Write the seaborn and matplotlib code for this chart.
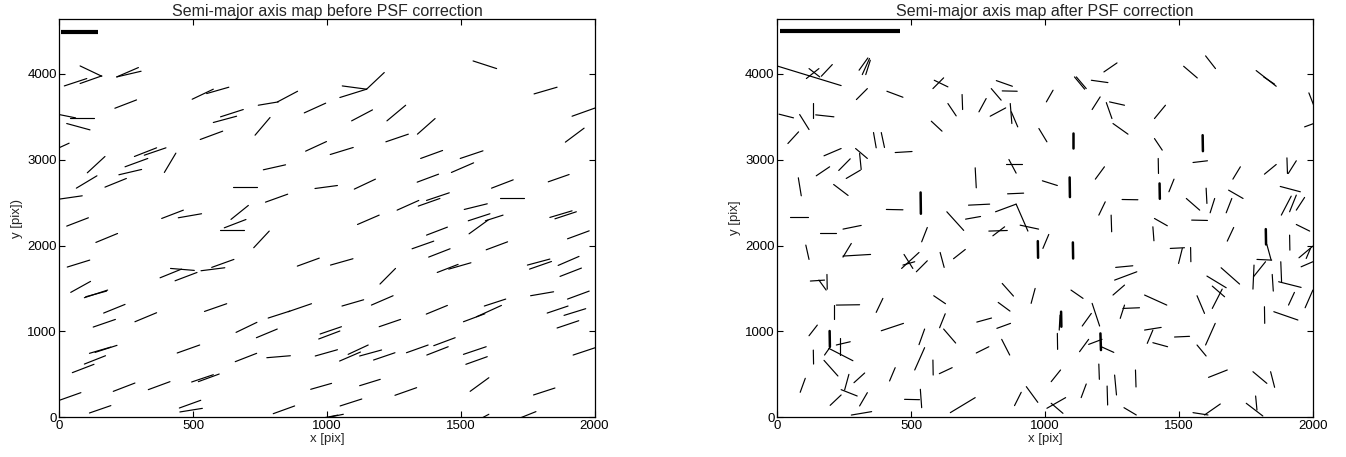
import pandas as pd
import matplotlib
matplotlib.use("Agg")
import matplotlib.pyplot as plt
import seaborn as sns

# whisker end points (x0, y0, x1, y1) in detector pixels
before_whiskers = [
    (77, 4093, 158, 3973), (18, 3860, 102, 3946), (77, 3888, 158, 3977), (214, 3965, 295, 4074),
    (214, 3965, 305, 4031), (207, 3600, 288, 3697), (496, 3705, 575, 3822), (550, 3771, 633, 3845),
    (743, 3635, 818, 3674), (815, 3674, 890, 3798), (915, 3546, 995, 3659), (-2, 3527, 60, 3488),
    (39, 3484, 130, 3484), (27, 3422, 114, 3348), (575, 3434, 662, 3507), (602, 3500, 687, 3585),
    (731, 3286, 787, 3492), (526, 3236, 610, 3333), (-2, 3139, 36, 3193), (280, 3038, 363, 3139),
    (317, 3053, 398, 3139), (245, 2918, 330, 3015), (392, 2852, 435, 3077), (104, 2848, 170, 3038),
    (920, 3100, 998, 3212), (222, 2825, 307, 2887), (63, 2669, 140, 2813), (170, 2681, 250, 2782),
    (650, 2677, 737, 2677), (762, 2883, 845, 2941), (955, 2665, 1039, 2700), (-2, 2541, 85, 2580),
    (770, 2506, 853, 2599), (382, 2316, 463, 2413), (444, 2324, 531, 2371), (641, 2305, 706, 2468),
    (27, 2227, 108, 2324), (616, 2207, 697, 2304), (599, 2176, 691, 2176),
    (1546, 4151, 1634, 4062), (1057, 3860, 1148, 3822), (1148, 3822, 1214, 4016), (1048, 3725, 1148, 3822),
    (1774, 3767, 1860, 3845), (1092, 3453, 1170, 3581), (1224, 3453, 1294, 3635), (1916, 3507, 2005, 3606),
    (1338, 3298, 1404, 3480), (1220, 3209, 1304, 3298), (1891, 3205, 1961, 3368), (1012, 3061, 1098, 3143),
    (1350, 3015, 1432, 3108), (1498, 3015, 1583, 3104), (1465, 2852, 1548, 2964), (1102, 2658, 1181, 2774),
    (1337, 2739, 1417, 2832), (1615, 2669, 1696, 2766), (1827, 2743, 1905, 2828), (1648, 2553, 1736, 2553),
    (1262, 2413, 1343, 2526), (1341, 2460, 1422, 2549), (1372, 2526, 1457, 2615), (1513, 2421, 1599, 2487),
    (1114, 2246, 1195, 2355), (1528, 2289, 1609, 2371), (1592, 2289, 1658, 2355), (1531, 2137, 1602, 2297),
    (1833, 2328, 1916, 2405), (1852, 2312, 1932, 2394),
    (1372, 2122, 1450, 2215), (1318, 1963, 1399, 2052), (1380, 1866, 1460, 1963), (1595, 1951, 1675, 2044),
    (1899, 2079, 1980, 2172), (1013, 1773, 1097, 1847), (1412, 1687, 1490, 1781), (1455, 1726, 1538, 1800),
    (1198, 1552, 1256, 1734), (1749, 1773, 1833, 1843), (1757, 1726, 1839, 1815), (1864, 1769, 1942, 1874),
    (1871, 1641, 1951, 1738), (1056, 1296, 1137, 1369), (1166, 1307, 1247, 1416), (1371, 1202, 1450, 1303),
    (1588, 1296, 1668, 1377), (1510, 1113, 1590, 1206), (1559, 1171, 1652, 1303), (1761, 1416, 1847, 1462),
    (1899, 1377, 1980, 1470), (1823, 1214, 1901, 1296), (1886, 1187, 1967, 1265), (1195, 1055, 1275, 1140),
    (1860, 1040, 1941, 1125), (974, 970, 1054, 1055), (969, 912, 1048, 1005), (956, 714, 1039, 787),
    (1079, 733, 1154, 842), (1047, 655, 1125, 760), (1122, 714, 1204, 784), (1174, 667, 1254, 752),
    (1297, 752, 1378, 842), (1373, 725, 1453, 822), (1399, 834, 1479, 927), (1510, 733, 1595, 822),
    (1519, 617, 1599, 706), (1920, 725, 2005, 813), (939, 326, 1017, 395), (1122, 368, 1199, 442),
    (1254, 256, 1335, 345), (1535, 302, 1605, 461), (1772, 260, 1852, 341), (1049, 132, 1130, 213),
    (1011, 3, 1061, 35), (990, -5, 1040, 25), (1560, -40, 1605, 35), (1720, -10, 1781, 66),
    (136, 2037, 217, 2141), (726, 1975, 784, 2169), (29, 1750, 113, 1831), (889, 1761, 971, 1854),
    (569, 1746, 652, 1839), (415, 1734, 504, 1711), (529, 1707, 618, 1742), (376, 1625, 456, 1726),
    (432, 1590, 514, 1687), (42, 1455, 116, 1583), (93, 1393, 180, 1482), (98, 1404, 176, 1470),
    (165, 1214, 245, 1315), (542, 1233, 625, 1323), (126, 1051, 209, 1140), (282, 1113, 363, 1218),
    (780, 1156, 861, 1237), (855, 1230, 942, 1323), (660, 989, 738, 1106), (736, 927, 814, 1028),
    (112, 745, 192, 818), (133, 756, 215, 838), (93, 620, 172, 717), (48, 520, 129, 617),
    (440, 749, 524, 842), (657, 648, 737, 745), (775, 694, 863, 717), (494, 411, 575, 496),
    (519, 415, 597, 504), (201, 302, 282, 399), (332, 322, 413, 415), (-4, 194, 80, 287),
    (112, 50, 192, 136), (448, 108, 528, 198), (450, 62, 534, 104), (799, 42, 879, 132),
]

after_whiskers = [
    (-2, 4093, 238, 3864), (108, 3946, 155, 4062), (118, 4062, 158, 3965), (164, 3973, 205, 4109),
    (305, 4043, 338, 4186), (317, 3992, 344, 4179), (330, 3992, 347, 4159), (295, 3701, 336, 3829),
    (409, 3798, 469, 3728), (581, 3829, 621, 3954), (586, 3926, 637, 3849), (637, 3655, 668, 3511),
    (690, 3760, 692, 3585), (753, 3558, 780, 3713), (799, 3829, 836, 3694), (818, 3922, 878, 3856),
    (840, 3802, 896, 3798), (795, 3507, 853, 3604), (870, 3655, 876, 3422), (874, 3558, 898, 3383),
    (1005, 3674, 1030, 3810), (6, 3531, 60, 3488), (83, 3527, 118, 3352), (134, 3666, 134, 3492),
    (143, 3523, 211, 3500), (39, 3189, 79, 3325), (575, 3449, 615, 3333), (977, 3364, 1007, 3209),
    (359, 3317, 369, 3139), (388, 3317, 400, 3143), (440, 3084, 503, 3096), (174, 3046, 238, 3131),
    (292, 3131, 336, 3015), (307, 3073, 313, 2887), (229, 2875, 272, 3011), (145, 2813, 195, 2918),
    (257, 2782, 310, 2879), (855, 2945, 915, 2945), (865, 3003, 892, 2844), (739, 2906, 743, 2673),
    (78, 2790, 89, 2580), (210, 2712, 264, 2584), (990, 2755, 1046, 2700), (407, 2421, 469, 2417),
    (48, 2336, 114, 2336), (633, 2394, 696, 2177), (703, 2308, 759, 2339), (714, 2471, 793, 2483),
    (860, 2603, 920, 2611), (815, 2394, 892, 2483), (892, 2483, 936, 2169),
    (1220, 4023, 1269, 4128), (1110, 3965, 1148, 3822), (1117, 3965, 1154, 3829), (1173, 3926, 1235, 3899),
    (1176, 3585, 1206, 3732), (1229, 3666, 1250, 3480), (1241, 3674, 1297, 3635), (1254, 3422, 1310, 3298),
    (1409, 3480, 1450, 3635), (1518, 4089, 1569, 3953), (1600, 4210, 1637, 4062), (1789, 4039, 1864, 3856),
    (1817, 3965, 1858, 3880), (1986, 3779, 2004, 3635), (1970, 3383, 2004, 3422), (1409, 3247, 1438, 3112),
    (1553, 2968, 1607, 2988), (1423, 3015, 1424, 2840), (1188, 2774, 1222, 2918), (1463, 2627, 1482, 2774),
    (1288, 2537, 1347, 2534), (1201, 2355, 1225, 2510), (1247, 2355, 1249, 2161), (1528, 2549, 1578, 2413),
    (1602, 2669, 1605, 2491), (1617, 2382, 1634, 2549), (1677, 2382, 1698, 2549), (1686, 2646, 1740, 2549),
    (1702, 2774, 1730, 2918), (1820, 2832, 1864, 2945), (1904, 3022, 1906, 2840), (1909, 2840, 1939, 2988),
    (1879, 2689, 1954, 2627), (1883, 2355, 1920, 2576), (1914, 2394, 1939, 2588), (1939, 2413, 1970, 2561),
    (1548, 2297, 1607, 2293), (1409, 2316, 1457, 2231), (1939, 2246, 1989, 2169),
    (907, 2238, 976, 2192), (790, 2169, 859, 2176), (805, 2114, 849, 2219), (158, 2145, 220, 2145),
    (245, 2192, 313, 2235), (539, 2044, 560, 2211), (106, 2006, 118, 1839), (245, 1866, 276, 2025),
    (245, 1878, 348, 1897), (473, 1897, 506, 1734), (464, 1734, 529, 1920), (469, 1773, 513, 1812),
    (519, 1695, 560, 1823), (608, 1920, 623, 1746), (658, 1847, 702, 1955), (992, 1967, 1014, 2130),
    (123, 1587, 176, 1598), (185, 1664, 186, 1493), (155, 1598, 182, 1482), (211, 1307, 211, 1140),
    (220, 1307, 307, 1311), (369, 1222, 394, 1385), (584, 1416, 628, 1323), (606, 1043, 627, 1206),
    (621, 1028, 666, 865), (840, 1559, 882, 1412), (948, 1327, 963, 1501), (825, 1338, 869, 1237),
    (745, 1109, 800, 1156), (820, 1036, 871, 1094), (388, 1008, 471, 1094), (118, 950, 149, 1074),
    (176, 725, 197, 818), (192, 803, 282, 659), (220, 842, 272, 880), (232, 725, 232, 927),
    (134, 783, 135, 620), (529, 846, 550, 1028), (513, 551, 550, 811), (743, 749, 790, 822),
    (838, 908, 868, 725), (581, 667, 582, 492), (605, 508, 653, 578), (174, 663, 226, 481),
    (419, 423, 440, 578), (85, 291, 104, 454), (286, 403, 326, 516), (251, 318, 267, 500),
    (238, 322, 298, 248), (197, 139, 238, 260), (307, 132, 336, 287), (276, 26, 352, 66),
    (475, 209, 531, 205), (534, 326, 539, 112), (646, 54, 739, 229), (886, 136, 911, 291),
    (930, 357, 973, 174),
    (1403, 2219, 1407, 2056), (1681, 2052, 1705, 2211), (1914, 2122, 1915, 1947), (1468, 1967, 1521, 1975),
    (1499, 1792, 1513, 1967), (1544, 1978, 1545, 1812), (1264, 1746, 1328, 1765), (1260, 1598, 1343, 1695),
    (1254, 1424, 1297, 1540), (1097, 1482, 1142, 1385), (1176, 1327, 1204, 1063), (1139, 1063, 1173, 1210),
    (1281, 1152, 1297, 1307), (1291, 1268, 1353, 1276), (1372, 1424, 1455, 1307), (1568, 1416, 1596, 1210),
    (1605, 1645, 1677, 1509), (1625, 1528, 1671, 1404), (1625, 1268, 1662, 1493), (1658, 1742, 1727, 1552),
    (1777, 1493, 1781, 1773), (1779, 1637, 1824, 1812), (1792, 1839, 1847, 1831), (1829, 2013, 1845, 1831),
    (1849, 1664, 1853, 1470), (1881, 1812, 1884, 1579), (1873, 1579, 1957, 1513), (1910, 1307, 1932, 1455),
    (1949, 1858, 2001, 1994), (1957, 1753, 2001, 1812), (1976, 1850, 1992, 1967), (1972, 1276, 2001, 1482),
    (1820, 1288, 1821, 1094), (1855, 1230, 1945, 1133), (1056, 1191, 1053, 1016), (1046, 977, 1047, 791),
    (1129, 764, 1163, 908), (1163, 849, 1213, 908), (1210, 822, 1257, 756), (1372, 1016, 1434, 1047),
    (1382, 861, 1403, 1016), (1403, 869, 1458, 822), (1484, 935, 1540, 943), (1600, 842, 1636, 1094),
    (1568, 842, 1602, 714), (1023, 415, 1058, 551), (1201, 620, 1203, 442), (1135, 229, 1154, 388),
    (1232, 364, 1234, 143), (1260, 492, 1267, 260), (1338, 551, 1340, 353), (1611, 465, 1681, 551),
    (1777, 531, 1829, 395), (1843, 531, 1858, 349), (1007, 105, 1077, 229), (1023, 163, 1067, 46),
    (1295, 112, 1341, 27), (1553, 54, 1609, 27), (1596, 27, 1655, 155), (1752, 163, 1814, 15),
    (1787, 248, 1792, 85),
]

# overlapping whiskers that show up as heavier strokes
after_bold = [
    (535, 2619, 536, 2371), (1104, 3317, 1104, 3139), (1589, 3286, 1590, 3100), (1092, 2794, 1093, 2565),
    (1428, 2724, 1429, 2545), (973, 2052, 974, 1858), (195, 1005, 196, 822), (1104, 2037, 1105, 1850),
    (1825, 2192, 1826, 2013), (1060, 1230, 1061, 1055), (1207, 977, 1209, 783),
]

# reference bars in the upper left corner
scale_before = (5, 145, 4490)
scale_after = (8, 459, 4500)

x_ticks = [0, 500, 1000, 1500, 2000]
y_ticks = [0, 1000, 2000, 3000, 4000]


def to_long(segs):
    rows = []
    for i, (x0, y0, x1, y1) in enumerate(segs):
        rows.append({"seg": i, "x": x0, "y": y0})
        rows.append({"seg": i, "x": x1, "y": y1})
    return pd.DataFrame(rows)


sns.set_theme(style="ticks")
plt.rcParams["font.family"] = ["Liberation Sans", "DejaVu Sans"]
plt.rcParams.update({
    "xtick.direction": "in", "ytick.direction": "in",
    "xtick.top": True, "ytick.right": True,
    "xtick.major.size": 4, "ytick.major.size": 4,
    "xtick.major.width": 0.8, "ytick.major.width": 0.8,
    "axes.linewidth": 0.9, "axes.edgecolor": "black",
    "xtick.color": "black", "ytick.color": "black",
    "xtick.labelsize": 9.5, "ytick.labelsize": 9.5,
})

fig = plt.figure(figsize=(13.46, 4.57), dpi=100)
ax1 = fig.add_axes([0.0442, 0.0869, 0.3975, 0.8716])
ax2 = fig.add_axes([0.5776, 0.0869, 0.3976, 0.8716])

panels = [
    (ax1, before_whiskers, [], scale_before, "Semi-major axis map before PSF correction", "y [pix])"),
    (ax2, after_whiskers, after_bold, scale_after, "Semi-major axis map after PSF correction", "y [pix]"),
]

for ax, segs, bold, bar, title, ylab in panels:
    sns.lineplot(data=to_long(segs), x="x", y="y", units="seg", estimator=None,
                 sort=False, color="black", linewidth=0.85, ax=ax)
    if bold:
        sns.lineplot(data=to_long(bold), x="x", y="y", units="seg", estimator=None,
                     sort=False, color="black", linewidth=1.8, ax=ax)
    ax.plot([bar[0], bar[1]], [bar[2], bar[2]], color="black", linewidth=3.0,
            solid_capstyle="butt")
    ax.set_xlim(0, 2000)
    ax.set_ylim(0, 4640)
    ax.set_xticks(x_ticks)
    ax.set_yticks(y_ticks)
    # the original title is set wide, so a touch of letter spacing via size
    ax.set_title(title, fontsize=11.5, pad=2)
    ax.set_xlabel("x [pix]", fontsize=9.5, labelpad=1)
    ax.set_ylabel(ylab, fontsize=9.5, labelpad=3)
    ax.tick_params(pad=2)
    for s in ax.spines.values():
        s.set_visible(True)

fig.savefig("out.png", dpi=100)
